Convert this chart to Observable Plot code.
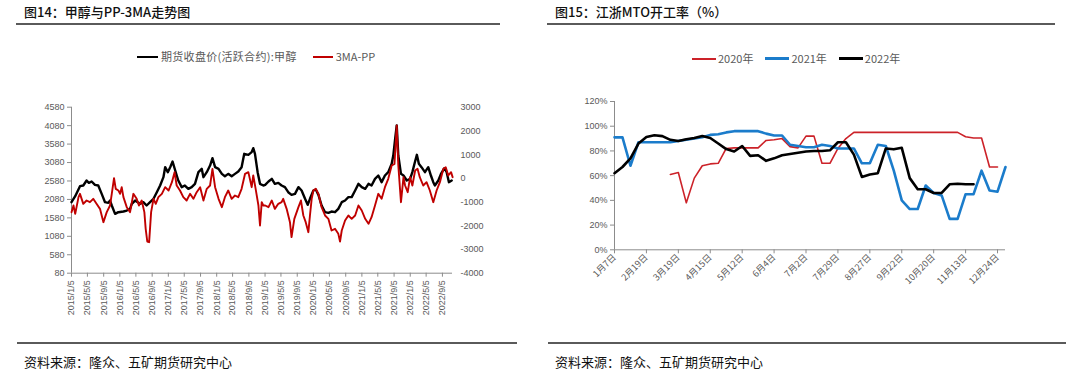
<!DOCTYPE html>
<html><head><meta charset="utf-8">
<script src="https://cdn.jsdelivr.net/npm/d3@7"></script>
<script src="https://cdn.jsdelivr.net/npm/@observablehq/plot@0.6"></script>
<style>
body{margin:0;background:#fff;width:1080px;height:374px;overflow:hidden;position:relative;font-family:"Noto Sans CJK SC",sans-serif;}
.abs{position:absolute;}
.title{font-size:13px;line-height:16px;color:#111;white-space:nowrap;font-weight:500;}
.rule{height:2px;background:#5a5a5a;}
.foot{font-size:13px;line-height:16px;color:#111;white-space:nowrap;}
.legend{font-size:10px;line-height:12px;color:#595959;white-space:nowrap;display:flex;align-items:center;}
.sw{display:inline-block;margin-right:3px;}
</style></head><body>
<div class="abs title" style="left:24px;top:4px;">图14：甲醇与PP-3MA走势图</div>
<div class="abs rule" style="left:16px;top:23px;width:484px;"></div>
<div class="abs title" style="left:555px;top:4px;">图15：江浙MTO开工率（%）</div>
<div class="abs rule" style="left:547px;top:23px;width:508px;"></div>

<div class="abs legend" style="left:137px;top:50px;font-size:11px;line-height:13px;">
  <span class="sw" style="width:21px;height:2px;background:#000;"></span><span id="lgA" style="letter-spacing:0.3px;"></span>
  <span class="sw" style="width:20px;height:2px;background:#C00000;margin-left:16px;"></span><span id="lgB"></span>
</div>
<div class="abs legend" style="left:692px;top:52px;font-size:11px;line-height:13px;">
  <span class="sw" style="width:24px;height:2px;background:#CC2229;margin-right:2px;"></span><span id="lg0"></span>
  <span class="sw" style="width:24px;height:3px;background:#1B7CCB;margin-left:12px;margin-right:2px;"></span><span id="lg1"></span>
  <span class="sw" style="width:24px;height:3px;background:#000;margin-left:12px;margin-right:2px;"></span><span id="lg2"></span>
</div>

<div id="left" class="abs" style="left:0;top:95px;"></div>
<div id="right" class="abs" style="left:540px;top:90px;"></div>

<div class="abs rule" style="left:17px;top:342px;width:500px;"></div>
<div class="abs rule" style="left:548px;top:342px;width:518px;"></div>
<div class="abs foot" style="left:24px;top:354px;">资料来源：隆众、五矿期货研究中心</div>
<div class="abs foot" style="left:555px;top:354px;">资料来源：隆众、五矿期货研究中心</div>

<script>
// ---------- Left chart data ----------
const seriesNamesLeft = ["期货收盘价(活跃合约):甲醇", "3MA-PP"];
const leftTicks = [80, 580, 1080, 1580, 2080, 2580, 3080, 3580, 4080, 4580];
const rightTicks = [-4000, -3000, -2000, -1000, 0, 1000, 2000, 3000];
const leftXTickLabels = ["2015/1/5","2015/5/5","2015/9/5","2016/1/5","2016/5/5","2016/9/5","2017/1/5","2017/5/5","2017/9/5","2018/1/5","2018/5/5","2018/9/5","2019/1/5","2019/5/5","2019/9/5","2020/1/5","2020/5/5","2020/9/5","2021/1/5","2021/5/5","2021/9/5","2022/1/5","2022/5/5","2022/9/5"];
const leftDateRange = ["2015-01-05", "2022-11-20"];

const methanol = [["2015-01-05",2005],["2015-02-02",2168],["2015-03-10",2439],["2015-04-04",2457],["2015-04-29",2593],["2015-05-16",2529],["2015-06-06",2566],["2015-07-01",2475],["2015-07-26",2457],["2015-08-21",2231],["2015-09-15",2005],["2015-10-10",1987],["2015-10-23",2050],["2015-11-05",1915],["2015-11-30",1689],["2015-12-25",1734],["2016-02-01",1752],["2016-02-26",1779],["2016-03-22",1825],["2016-04-04",1960],["2016-04-29",2050],["2016-06-05",1960],["2016-06-30",2005],["2016-07-25",1915],["2016-08-20",2005],["2016-09-15",2096],["2016-10-10",2276],["2016-11-04",2457],["2016-11-29",2683],["2016-12-12",2954],["2017-01-01",2819],["2017-01-19",2954],["2017-02-06",3108],["2017-02-26",2864],["2017-03-21",2593],["2017-04-16",2412],["2017-05-10",2457],["2017-06-05",2367],["2017-06-30",2412],["2017-07-25",2502],["2017-08-20",2819],["2017-09-14",2909],["2017-09-27",2683],["2017-10-22",2819],["2017-11-16",2999],["2017-12-04",3198],["2017-12-24",2954],["2018-01-19",2909],["2018-02-13",2773],["2018-03-08",2710],["2018-04-02",2773],["2018-04-28",2710],["2018-05-23",2773],["2018-06-17",2837],["2018-07-12",2954],["2018-08-01",3316],["2018-09-01",3289],["2018-09-26",3361],["2018-10-08",3469],["2018-10-21",3316],["2018-11-10",2819],["2018-11-28",2502],["2018-12-23",2457],["2019-01-06",2475],["2019-01-31",2566],["2019-02-25",2638],["2019-03-20",2502],["2019-04-15",2529],["2019-05-10",2457],["2019-06-04",2412],["2019-06-29",2276],["2019-07-24",2204],["2019-08-19",2231],["2019-09-14",2412],["2019-10-08",2322],["2019-11-03",2096],["2019-11-23",1933],["2019-12-10",2096],["2020-01-05",2322],["2020-01-23",2349],["2020-02-12",2204],["2020-03-07",1915],["2020-04-02",1734],["2020-04-27",1716],["2020-05-21",1752],["2020-06-16",1734],["2020-07-11",1824],["2020-08-06",2005],["2020-08-31",2050],["2020-09-25",2141],["2020-10-20",2141],["2020-11-15",2322],["2020-12-10",2502],["2021-01-04",2412],["2021-01-30",2367],["2021-02-24",2502],["2021-03-19",2457],["2021-04-14",2638],["2021-05-09",2728],["2021-06-03",2548],["2021-06-28",2728],["2021-07-23",2819],["2021-08-18",3045],["2021-08-30",3270],["2021-09-13",3722],["2021-09-25",4084],["2021-10-07",3270],["2021-10-27",2773],["2021-11-15",2728],["2021-12-10",2593],["2022-01-04",2638],["2022-01-21",2819],["2022-02-06",3045],["2022-02-24",3289],["2022-03-11",3045],["2022-03-31",2954],["2022-04-26",2819],["2022-05-21",2954],["2022-06-10",2728],["2022-06-28",2548],["2022-07-10",2457],["2022-08-05",2593],["2022-08-25",2773],["2022-09-20",2927],["2022-10-07",2819],["2022-10-24",2548],["2022-11-14",2593]];

const spread = [["2015-01-05",-1426],["2015-01-20",-1145],["2015-02-02",-1496],["2015-02-27",-794],["2015-03-10",-653],["2015-04-04",-1075],["2015-04-29",-934],["2015-05-24",-1005],["2015-06-18",-864],["2015-07-13",-1075],["2015-08-08",-1286],["2015-09-03",-1848],["2015-09-28",-1426],["2015-10-23",-1145],["2015-11-05",-653],["2015-11-22",8],["2015-12-05",-442],["2015-12-25",-512],["2016-01-07",-653],["2016-01-19",-372],["2016-02-01",-794],["2016-02-26",-1215],["2016-03-22",-1426],["2016-04-16",-653],["2016-05-11",-864],["2016-05-28",-1145],["2016-06-18",-934],["2016-07-08",-1426],["2016-07-18",-2129],["2016-07-30",-2663],["2016-08-13",-2691],["2016-08-28",-1426],["2016-09-15",-864],["2016-10-02",-1075],["2016-10-22",-794],["2016-11-17",-653],["2016-12-12",-372],["2017-01-07",-512],["2017-02-01",-161],["2017-02-21",261],["2017-03-09",-302],["2017-04-03",-512],["2017-04-28",-794],["2017-05-23",-934],["2017-06-18",-653],["2017-07-13",-864],["2017-08-07",-583],["2017-09-02",-372],["2017-09-27",-934],["2017-10-22",-442],["2017-11-16",-302],["2017-12-04",401],["2017-12-24",-372],["2018-01-19",-864],["2018-02-13",-1215],["2018-03-08",-794],["2018-04-02",-512],["2018-04-28",-864],["2018-05-23",-723],["2018-06-17",-794],["2018-07-12",-442],["2018-08-07",190],["2018-09-01",261],["2018-09-26",-372],["2018-10-08",120],["2018-10-26",-442],["2018-11-16",-1145],["2018-11-28",-1989],["2018-12-11",-1005],["2018-12-23",-1145],["2019-01-06",-1145],["2019-01-31",-1215],["2019-02-25",-934],["2019-03-20",-1286],["2019-04-15",-1075],["2019-05-10",-1005],["2019-05-22",-864],["2019-06-17",-1286],["2019-07-12",-1848],["2019-07-24",-2480],["2019-08-14",-1707],["2019-09-14",-1215],["2019-10-03",-934],["2019-10-21",-1567],["2019-11-08",-1848],["2019-11-28",-2270],["2019-12-10",-1567],["2019-12-23",-864],["2020-01-05",-512],["2020-01-23",-442],["2020-02-12",-653],["2020-03-07",-1215],["2020-04-02",-1567],["2020-04-27",-1707],["2020-05-21",-2199],["2020-06-16",-2129],["2020-07-11",-2340],["2020-07-24",-2663],["2020-08-06",-2199],["2020-08-31",-1778],["2020-09-25",-1567],["2020-10-20",-1707],["2020-11-15",-1567],["2020-12-10",-1145],["2021-01-04",-1356],["2021-01-30",-1707],["2021-02-24",-1918],["2021-03-19",-1637],["2021-04-14",-1145],["2021-05-09",-653],["2021-06-03",-864],["2021-06-28",-372],["2021-07-23",-20],["2021-08-18",542],["2021-09-08",612],["2021-09-25",2229],["2021-10-07",542],["2021-10-27",-1005],["2021-11-15",50],["2021-11-27",-302],["2021-12-17",-583],["2022-01-04",50],["2022-01-21",-302],["2022-02-11",331],["2022-03-01",401],["2022-03-18",50],["2022-04-13",-302],["2022-05-08",-161],["2022-06-02",-512],["2022-06-28",-1005],["2022-07-23",-512],["2022-08-17",-161],["2022-09-12",401],["2022-09-30",471],["2022-10-19",120],["2022-11-09",261],["2022-11-21",50]];

// ---------- Right chart data ----------
const seriesNamesRight = ["2020年", "2021年", "2022年"];
const rightXTickLabels = ["1月7日","2月19日","3月19日","4月15日","5月12日","6月4日","7月2日","7月29日","8月27日","9月22日","10月20日","11月13日","12月24日"];
const rightYTicks = [0, 20, 40, 60, 80, 100, 120];
const weekCount = 50;
const rate2020 = [null,null,null,null,null,null,null,61,62.5,38,58,68,69.5,70,82,82.5,82.5,82.5,82.5,88.5,89,90,83.5,82.5,92,92,70,70,82,90,95,95,95,95,95,95,95,95,95,95,95,95,95,95,91.5,90.5,90.5,67,67,null];
const rate2021 = [91,91,68,87,87,87,87,87,88,89,90,91,93,93.5,95,96,96,96,96,94,92.5,92.5,85,84,83,83,85,84,82,82,82,70,70,85,84,64,40,33,33,52,46,44,25,25,45,45,64,48,47,67];
const rate2022 = [62,67,74,86,91.3,92.7,92,89,88,89.5,90.5,92,90.5,86,81.5,79.5,84,76,76.5,72,74,76.5,77.5,78.5,79.5,80,80,80.5,87,87,77,59,61,62,82,81.3,82.5,58,49,49,46,46,53,53.5,53,53,null,null,null,null];

// legends text
document.getElementById("lgA").textContent = seriesNamesLeft[0];
document.getElementById("lgB").textContent = seriesNamesLeft[1];
["lg0","lg1","lg2"].forEach((id,i)=>document.getElementById(id).textContent = seriesNamesRight[i]);

// ---------- Left chart ----------
const parseD = d3.utcParse("%Y-%m-%d");
const parseTick = d3.utcParse("%Y/%m/%d");
const L0 = leftTicks[0], L1 = leftTicks[leftTicks.length-1];
const R0 = rightTicks[0], R1 = rightTicks[rightTicks.length-1];
const toL = r => L0 + (r - R0) * (L1 - L0) / (R1 - R0);
const fromL = l => R0 + (l - L0) * (R1 - R0) / (L1 - L0);
const mData = methanol.map(([d,v]) => ({date: parseD(d), v}));
const sData = spread.map(([d,v]) => ({date: parseD(d), v: toL(v)}));
const xTicks = leftXTickLabels.map(parseTick);
const xDom = leftDateRange.map(parseD);

const leftPlot = Plot.plot({
  width: 520, height: 230,
  marginLeft: 71, marginRight: 68, marginTop: 11.7, marginBottom: 52.3,
  style: {fontFamily: "'Liberation Sans', Arial, sans-serif", fontSize: "9px", color: "#595959", background: "transparent", overflow: "visible"},
  x: {type: "utc", domain: xDom},
  y: {domain: [L0, L1]},
  marks: [
    Plot.ruleX([xDom[0]], {stroke: "#8c8c8c"}),
    Plot.ruleY([L0], {stroke: "#8c8c8c"}),
    Plot.axisY({anchor: "left", ticks: leftTicks, tickFormat: d => String(d), tickSize: 4, tickPadding: 3, stroke: "#8c8c8c", label: null}),
    Plot.axisY({anchor: "right", ticks: rightTicks.map(toL), tickFormat: d => String(Math.round(fromL(d))), tickSize: 0, tickPadding: 8, label: null}),
    Plot.axisX({ticks: xTicks, tickFormat: d => leftXTickLabels[xTicks.findIndex(t => +t === +d)], tickRotate: -90, tickSize: 4, tickPadding: 3, stroke: "#8c8c8c", label: null}),
    Plot.lineY(mData, {x: "date", y: "v", stroke: "#000", strokeWidth: 2.4}),
    Plot.lineY(sData, {x: "date", y: "v", stroke: "#C00000", strokeWidth: 1.9})
  ]
});
document.getElementById("left").appendChild(leftPlot);

// ---------- Right chart ----------
const idx = d3.range(weekCount);
const rows = (arr) => idx.map(i => ({i, v: arr[i]}));
const rightPlot = Plot.plot({
  width: 520, height: 215,
  marginLeft: 74, marginRight: 55, marginTop: 11, marginBottom: 55.7,
  style: {fontFamily: "'Liberation Sans', 'Noto Sans CJK SC', sans-serif", fontSize: "9px", color: "#595959", background: "transparent", overflow: "visible"},
  x: {type: "linear", domain: [0, weekCount - 1]},
  y: {domain: [0, 120]},
  marks: [
    Plot.ruleX([0], {stroke: "#8c8c8c"}),
    Plot.ruleY([0], {stroke: "#8c8c8c"}),
    Plot.axisY({ticks: rightYTicks, tickFormat: d => d + "%", tickSize: 4, tickPadding: 3, stroke: "#8c8c8c", label: null}),
    Plot.axisX({ticks: rightXTickLabels.map((_, k) => k * 4), tickFormat: d => rightXTickLabels[d / 4], tickRotate: -45, tickSize: 4, tickPadding: 2, stroke: "#8c8c8c", fontFamily: "'Noto Sans CJK SC', sans-serif", label: null}),
    Plot.lineY(rows(rate2020), {x: "i", y: "v", stroke: "#CC2229", strokeWidth: 1.6}),
    Plot.lineY(rows(rate2021), {x: "i", y: "v", stroke: "#1B7CCB", strokeWidth: 2.6}),
    Plot.lineY(rows(rate2022), {x: "i", y: "v", stroke: "#000", strokeWidth: 2.6})
  ]
});
document.getElementById("right").appendChild(rightPlot);
</script>
</body></html>
